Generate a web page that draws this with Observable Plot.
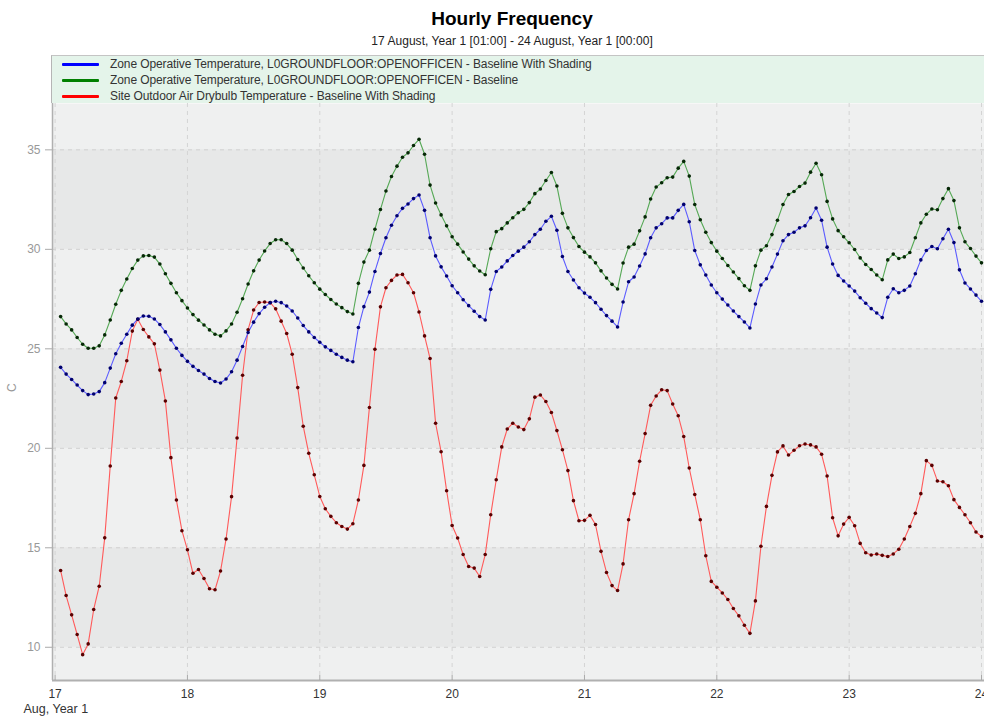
<!DOCTYPE html>
<html><head><meta charset="utf-8">
<script src="https://cdn.jsdelivr.net/npm/d3@7"></script>
<script src="https://cdn.jsdelivr.net/npm/@observablehq/plot@0.6"></script>
<style>
body{margin:0;background:#fff;font-family:"Liberation Sans",Arial,sans-serif;}
#wrap{position:relative;width:984px;height:720px;overflow:hidden;background:#fff}
#title{position:absolute;top:8px;left:52px;width:920px;text-align:center;font-weight:bold;font-size:19px;color:#000}
#subtitle{position:absolute;top:34px;left:52px;width:920px;text-align:center;font-size:12px;color:#222;letter-spacing:0.05px}
#legend{position:absolute;top:55px;left:51px;width:933px;height:48px;background:#e4f4ea;border-left:1px solid #b5b5b5;border-top:1px solid #c4c4c4;box-sizing:border-box}
.lrow{position:absolute;left:0;height:16px;font-size:12px;color:#333;line-height:16px;letter-spacing:-0.1px}
.lrow .sw{position:absolute;left:10px;top:7px;width:37px;height:3px;border-radius:1px}
.lrow .tx{position:absolute;left:58px;top:0;white-space:nowrap}
#chart{position:absolute;top:103px;left:0}
</style>
</head><body>
<div id="wrap">
  <div id="title"></div>
  <div id="subtitle"></div>
  <div id="legend"></div>
  <div id="chart"></div>
</div>
<script>
const titleText = "Hourly Frequency";
const subtitleText = "17 August, Year 1 [01:00] - 24 August, Year 1 [00:00]";
const seriesNames = [
  "Zone Operative Temperature, L0GROUNDFLOOR:OPENOFFICEN - Baseline With Shading",
  "Zone Operative Temperature, L0GROUNDFLOOR:OPENOFFICEN - Baseline",
  "Site Outdoor Air Drybulb Temperature - Baseline With Shading"
];
const legendColors = ["#0000ff", "#008000", "#ff0000"];
const lineColors = ["#5b5bff", "#55a855", "#ff5a5a"];
const dotColors = ["#00006e", "#062806", "#5a0000"];
const yTicks = [10, 15, 20, 25, 30, 35];
const xTickLabels = ["17", "18", "19", "20", "21", "22", "23", "24"];
const xAxisTitle = "Aug, Year 1";
const yAxisTitle = "C";

// hourly values, 17 Aug 01:00 ... 24 Aug 00:00
const blueVals = [
24.07,23.73,23.46,23.18,22.90,22.70,22.73,22.85,23.30,24.03,24.75,25.28,25.73,26.19,26.50,26.65,26.64,26.50,26.22,25.85,25.45,25.03,24.67,24.37,
24.12,23.91,23.73,23.51,23.36,23.28,23.48,23.85,24.43,25.12,25.82,26.34,26.77,27.09,27.32,27.39,27.32,27.15,26.90,26.55,26.17,25.85,25.57,25.33,
25.10,24.92,24.73,24.57,24.43,24.35,26.07,27.12,27.85,28.89,29.79,30.58,31.21,31.69,32.06,32.28,32.55,32.73,31.96,30.58,29.67,29.12,28.66,28.17,
27.82,27.47,27.17,26.89,26.62,26.45,27.99,28.89,29.11,29.42,29.69,29.91,30.11,30.38,30.74,31.01,31.41,31.66,30.96,29.64,28.89,28.46,28.07,27.80,
27.59,27.32,26.99,26.67,26.39,26.10,27.35,28.37,28.61,29.16,29.77,30.58,31.08,31.29,31.58,31.58,31.96,32.26,31.39,29.94,29.22,28.71,28.21,27.82,
27.50,27.20,26.90,26.62,26.35,26.05,27.25,28.21,28.52,29.11,29.76,30.43,30.74,30.86,31.08,31.18,31.59,32.08,31.46,30.11,29.26,28.69,28.41,28.16,
27.90,27.57,27.29,27.02,26.80,26.57,27.59,28.02,27.82,27.94,28.16,28.77,29.47,29.94,30.14,30.03,30.53,31.01,30.34,28.97,28.31,28.01,27.70,27.39
];
const greenVals = [
26.62,26.25,25.95,25.57,25.23,25.03,25.03,25.15,25.70,26.45,27.24,27.94,28.51,29.04,29.46,29.67,29.69,29.61,29.26,28.77,28.29,27.82,27.42,27.05,
26.72,26.44,26.20,25.95,25.73,25.65,25.90,26.25,26.84,27.52,28.26,28.92,29.46,29.92,30.29,30.48,30.48,30.29,29.96,29.49,29.06,28.67,28.32,28.00,
27.73,27.48,27.25,27.07,26.87,26.75,28.29,29.36,29.96,31.01,32.00,32.93,33.66,34.18,34.63,34.85,35.22,35.53,34.78,33.23,32.33,31.73,31.18,30.63,
30.26,29.87,29.51,29.17,28.91,28.72,30.03,30.89,31.04,31.33,31.59,31.84,32.01,32.35,32.80,33.03,33.46,33.86,33.18,31.81,31.08,30.59,30.14,29.86,
29.62,29.32,28.92,28.56,28.24,28.01,29.31,30.11,30.26,30.93,31.63,32.53,33.13,33.35,33.60,33.63,34.08,34.42,33.68,32.25,31.49,30.86,30.34,29.91,
29.54,29.19,28.86,28.53,28.17,27.94,29.17,29.96,30.18,30.74,31.46,32.25,32.76,32.91,33.16,33.33,33.88,34.33,33.75,32.41,31.53,30.94,30.63,30.33,
29.99,29.57,29.24,28.99,28.71,28.47,29.47,29.76,29.54,29.62,29.84,30.58,31.33,31.76,32.03,31.99,32.55,33.05,32.45,31.08,30.38,30.04,29.66,29.32
];
const redVals = [
13.86,12.60,11.63,10.64,9.63,10.17,11.90,13.07,15.50,19.11,22.53,23.36,24.40,25.89,26.49,25.97,25.60,25.25,23.93,22.38,19.53,17.40,15.86,14.90,
13.72,13.91,13.46,12.94,12.89,13.83,15.44,17.57,20.52,23.67,25.96,26.95,27.33,27.35,27.32,27.01,26.39,25.77,24.73,23.05,21.11,19.75,18.67,17.58,
16.96,16.58,16.26,16.07,15.94,16.21,17.40,19.14,22.05,24.98,27.11,28.07,28.44,28.71,28.74,28.32,27.82,26.85,25.65,24.51,21.26,19.83,17.87,16.12,
15.49,14.66,14.06,13.98,13.56,14.66,16.66,18.42,20.07,20.97,21.26,21.07,20.94,21.48,22.57,22.68,22.35,21.80,20.89,19.93,18.88,17.37,16.36,16.38,
16.63,16.17,14.82,13.76,13.10,12.85,14.19,16.41,17.72,19.35,20.74,22.16,22.63,22.94,22.90,22.23,21.64,20.59,19.01,17.68,16.41,14.60,13.31,13.02,
12.73,12.40,11.95,11.58,11.11,10.70,12.33,15.08,17.08,18.64,19.82,20.12,19.66,19.90,20.13,20.22,20.17,20.07,19.70,18.61,16.51,15.60,16.19,16.53,
16.11,15.22,14.75,14.64,14.69,14.62,14.56,14.69,14.93,15.44,16.07,16.73,17.72,19.38,19.14,18.36,18.32,18.12,17.42,17.03,16.66,16.26,15.79,15.57
];

document.getElementById("title").textContent = titleText;
document.getElementById("subtitle").textContent = subtitleText;
const leg = document.getElementById("legend");
seriesNames.forEach((n, i) => {
  const r = document.createElement("div");
  r.className = "lrow";
  r.style.top = (0 + i * 16) + "px";
  r.innerHTML = `<span class="sw" style="background:${legendColors[i]}"></span><span class="tx"></span>`;
  r.querySelector(".tx").textContent = n;
  leg.appendChild(r);
});

const start = Date.UTC(2001, 7, 17, 0);
const hourMs = 3600 * 1000;
const toRows = (vals, k) => vals.map((v, i) => ({t: new Date(start + (i + 1) * hourMs), v, k}));
const series = [toRows(blueVals, 0), toRows(greenVals, 1), toRows(redVals, 2)];
const dayTicks = xTickLabels.map((d, i) => new Date(start + i * 24 * hourMs));
const bands = yTicks.filter((d, i) => i % 2 === 0).map(d => ({y1: d, y2: d + 5}));
const yMin = 8.33, yMax = 37.33;

const drawOrder = [2, 0, 1];
const chart = Plot.plot({
  width: 984,
  height: 617,
  marginLeft: 52,
  marginRight: 0,
  marginTop: 0,
  marginBottom: 40,
  style: {fontFamily: "'Liberation Sans', Arial, sans-serif", fontSize: "12px", background: "transparent"},
  x: {type: "utc", domain: [dayTicks[0], dayTicks[dayTicks.length - 1]], insetLeft: 2.6, insetRight: 3},
  y: {domain: [yMin, yMax]},
  marks: [
    Plot.frame({fill: "#eff0f0", stroke: null}),
    Plot.rectY(bands, {y1: "y1", y2: "y2", fill: "#e7e8e8"}),
    Plot.gridY(yTicks, {stroke: "#d0d0d0", strokeOpacity: 1, strokeDasharray: "4,4"}),
    Plot.gridX(dayTicks, {stroke: "#d4d4d4", strokeOpacity: 1, strokeDasharray: "4,4"}),
    ...drawOrder.map(k => Plot.line(series[k], {x: "t", y: "v", stroke: lineColors[k], strokeWidth: 1.1})),
    ...drawOrder.map(k => Plot.dot(series[k], {x: "t", y: "v", r: 1.8, fill: dotColors[k], stroke: null})),
    Plot.ruleY([yMin], {stroke: "#b0b0b0", strokeWidth: 2}),
    Plot.ruleX([dayTicks[0]], {stroke: "#b0b0b0", strokeWidth: 1.5, dx: -2.6}),
    Plot.axisY(yTicks, {tickSize: 7, tickPadding: 5, stroke: "#aaa", fill: "#999", label: null}),
    Plot.axisX(dayTicks, {tickSize: 5, dy: -5, text: null, stroke: "#aaa", label: null}),
    Plot.axisX(dayTicks, {tickSize: 0, tickPadding: 9, fill: "#333", label: null,
      tickFormat: (d, i) => xTickLabels[i]}),
    Plot.text([yAxisTitle], {frameAnchor: "left", dx: -40, rotate: -90, fill: "#999", fontSize: 12}),
    Plot.text([xAxisTitle], {frameAnchor: "bottom-left", dx: -29, dy: 32, textAnchor: "start", fill: "#333", fontSize: 12.5})
  ]
});
document.getElementById("chart").appendChild(chart);
</script>
</body></html>
